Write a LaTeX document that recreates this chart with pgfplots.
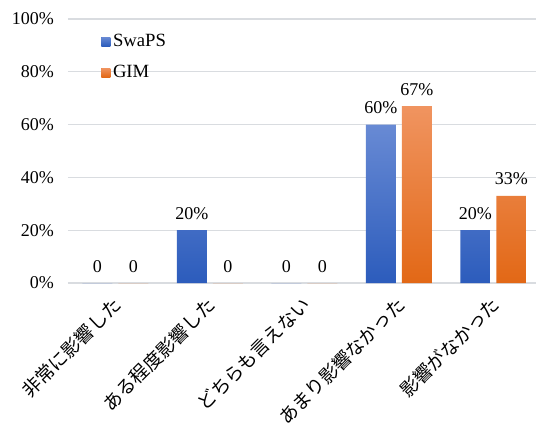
\documentclass[border=0pt]{standalone}
\usepackage{fontspec}
\setmainfont{Liberation Serif}
\newfontfamily\jp{Noto Sans CJK JP}
\usepackage{pgfplots}
\pgfplotsset{compat=1.18}
\definecolor{bluetop}{RGB}{104,138,212}
\definecolor{bluebot}{RGB}{44,92,188}
\definecolor{bluemid}{RGB}{66,112,204}
\definecolor{orgtop}{RGB}{240,148,96}
\definecolor{orgbot}{RGB}{226,104,22}
\definecolor{orgmid}{RGB}{240,124,50}
\definecolor{gridc}{RGB}{217,220,224}
\begin{document}
\begin{tikzpicture}
\begin{axis}[
  name=ax,
  scale only axis,
  width=351pt, height=198pt,
  ybar, bar width=22.5pt, ybar=4.5pt,
  xmin=-0.5, xmax=4.45,
  ymin=0, ymax=100,
  ytick={0,20,40,60,80,100},
  yticklabels={0\%,20\%,40\%,60\%,80\%,100\%},
  xtick={0,1,2,3,4},
  xticklabels={{\jp 非常に影響した},{\jp ある程度影響した},{\jp どちらも言えない},{\jp あまり影響なかった},{\jp 影響がなかった}},
  xticklabel style={rotate=45, anchor=east, font=\fontsize{14}{16}\selectfont, yshift=-8pt, xshift=-2pt},
  yticklabel style={font=\fontsize{13.5}{16}\selectfont, xshift=-7pt},
  axis line style={draw=none},
  tick style={draw=none},
  ymajorgrids,
  major grid style={draw=gridc, line width=0.9pt},
  point meta=explicit symbolic,
  nodes near coords,
  every node near coord/.append style={font=\fontsize{13.5}{16}\selectfont, yshift=4.5pt},
  legend style={at={(0.062,0.963)}, anchor=north west, draw=none, fill=none,
    font=\fontsize{14}{16}\selectfont, row sep=8.5pt,
    legend cell align=left},
  clip=false,
]
\addplot[draw=none, top color=bluetop, bottom color=bluebot,
  legend image code/.code={\fill[bluemid] (0pt,-3.4pt) rectangle (6.8pt,3.4pt);}]
  coordinates {(0,0) [0] (1,20) [20\%] (2,0) [0] (3,60) [60\%] (4,20) [20\%]};
\addplot[draw=none, top color=orgtop, bottom color=orgbot,
  legend image code/.code={\fill[orgmid] (0pt,-3.4pt) rectangle (6.8pt,3.4pt);}]
  coordinates {(0,0) [0] (1,0) [0] (2,0) [0] (3,67) [67\%] (4,33) [33\%]};
\legend{SwaPS,GIM}
\end{axis}
\pgfresetboundingbox
\useasboundingbox ([xshift=-51pt, yshift=-107.25pt]ax.south west) rectangle ([yshift=14.25pt]ax.north east);
\end{tikzpicture}
\end{document}
